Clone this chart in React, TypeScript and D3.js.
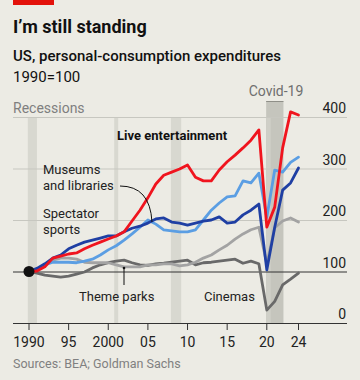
import React from "react";
import * as d3 from "d3";

const years = [1990,1991,1992,1993,1994,1995,1996,1997,1998,1999,2000,2001,2002,2003,2004,2005,2006,2007,2008,2009,2010,2011,2012,2013,2014,2015,2016,2017,2018,2019,2020,2021,2022,2023,2024];
const liveEntertainment = [100,101,109,126,130,134,136,144,151,157,163,169,177,198,219,243,270,287,293,299,307,283,276,276,297,313,326,340,355,375,186,225,340,410,404];
const spectatorSports = [100,106,115,126,132,144,151,157,161,165,169,169,177,184,188,194,202,204,196,194,190,194,198,200,206,194,196,210,219,231,103,186,258,272,301];
const museums = [100,103,113,118,118,118,117,120,124,132,142,150,161,173,186,200,192,181,179,177,177,181,200,219,233,245,247,276,272,291,205,297,293,312,322];
const themeParks = [100,103,113,122,126,126,124,118,117,117,117,113,109,109,109,113,113,115,115,111,113,118,126,132,142,151,163,173,181,186,115,185,198,204,196];
const cinemas = [100,97,93,91,89,91,95,99,107,113,117,120,122,117,113,112,115,116,118,120,122,113,117,118,120,122,124,116,120,115,25,42,74,85,97];

const yTicks = [0, 100, 200, 300, 400];
const xTicks = [1990, 1995, 2000, 2005, 2010, 2015, 2020, 2024];
const xTickLabels = ["1990", "95", "2000", "05", "10", "15", "20", "24"];
const recessions: [number, number][] = [[1989.85, 1991.0], [2000.75, 2001.25], [2007.9, 2009.2], [2019.92, 2020.5]];
const covid: [number, number] = [2019.92, 2022.1];

const W = 360, H = 380;
const BG = "#ecebe4";
const FONT = "Roboto, 'Noto Sans', sans-serif";

export default function App() {
  const x = d3.scaleLinear().domain([1990, 2024]).range([29, 298.5]);
  const y = d3.scaleLinear().domain([0, 400]).range([323, 117]);
  const line = d3.line<number>().x((_, i) => x(years[i])).y((d) => y(d));

  const series = [
    { data: cinemas, color: "#696969" },
    { data: themeParks, color: "#a3a3a3" },
    { data: museums, color: "#5b9ee3" },
    { data: spectatorSports, color: "#1f3fa3" },
    { data: liveEntertainment, color: "#f0141e" },
  ];

  return (
    <svg width={W} height={H} style={{ position: "absolute", left: 0, top: 0, background: BG, fontFamily: FONT }}>
      <rect x={0} y={0} width={W} height={H} fill={BG} />
      <rect x={13} y={0} width={41} height={5} fill="#e3120b" />
      <text x={13} y={33} fontSize={18} fontWeight={700} fill="#111">I’m still standing</text>
      <text x={13} y={61} fontSize={15} fontWeight={500} fill="#111">US, personal-consumption expenditures</text>
      <text x={13} y={82} fontSize={15} fill="#111">1990=100</text>

      {/* Covid band */}
      <rect x={x(covid[0])} y={101} width={x(covid[1]) - x(covid[0])} height={323 - 101} fill="#c5c5bd" />
      <line x1={x(covid[0])} x2={x(covid[1])} y1={101.5} y2={101.5} stroke="#8f8f88" strokeWidth={1} />
      {recessions.map((r, i) => (
        <rect key={i} x={x(r[0])} y={117} width={x(r[1]) - x(r[0])} height={323 - 117} fill={i === 3 ? "#cfcfc7" : "#d8d8d0"} />
      ))}
      <text x={13} y={113} fontSize={14} fill="#7f7f7f">Recessions</text>
      <text x={276} y={96} fontSize={14} fill="#6f6f6f" textAnchor="middle">Covid-19</text>

      {/* gridlines */}
      {yTicks.map((t) => (
        <g key={t}>
          {t !== 0 && t !== 100 && (
            <line x1={13} x2={347} y1={y(t) + 0.5} y2={y(t) + 0.5} stroke="#c7c7c0" strokeWidth={1} />
          )}
          <text x={346} y={y(t) - 4} fontSize={14} textAnchor="end" fill="#222">{t}</text>
        </g>
      ))}
      <line x1={13} x2={347} y1={y(100) + 0.5} y2={y(100) + 0.5} stroke="#333" strokeWidth={1} />
      <line x1={13} x2={347} y1={y(0) + 0.5} y2={y(0) + 0.5} stroke="#333" strokeWidth={1} />
      {xTicks.map((t, i) => (
        <g key={t}>
          <line x1={x(t)} x2={x(t)} y1={323} y2={330} stroke="#333" strokeWidth={1} />
          <text x={x(t)} y={347} fontSize={14} textAnchor="middle" fill="#222">{xTickLabels[i]}</text>
        </g>
      ))}

      {series.map((s, i) => (
        <path key={i} d={line(s.data) || ""} fill="none" stroke={s.color} strokeWidth={2.8} strokeLinejoin="round" strokeLinecap="round" />
      ))}
      <circle cx={x(1990)} cy={y(100)} r={5.5} fill="#111" />

      {/* labels */}
      <text x={117} y={140} fontSize={13} fontWeight={700} fill="#111">Live entertainment</text>
      <text x={43} y={174} fontSize={13} fill="#222">Museums</text>
      <text x={43} y={190} fontSize={13} fill="#222">and libraries</text>
      <path d="M120,186 Q150,186 152,222" fill="none" stroke="#111" strokeWidth={1} />
      <text x={43} y={218} fontSize={13} fill="#222">Spectator</text>
      <text x={43} y={234} fontSize={13} fill="#222">sports</text>
      <line x1={124} x2={124} y1={268} y2={285} stroke="#111" strokeWidth={1} />
      <circle cx={124} cy={268} r={1.3} fill="#111" />
      <text x={79} y={301} fontSize={13} fill="#222">Theme parks</text>
      <text x={204} y={301} fontSize={13} fill="#222">Cinemas</text>

      <text x={13} y={368} fontSize={12.5} fill="#808080">Sources: BEA; Goldman Sachs</text>
    </svg>
  );
}
